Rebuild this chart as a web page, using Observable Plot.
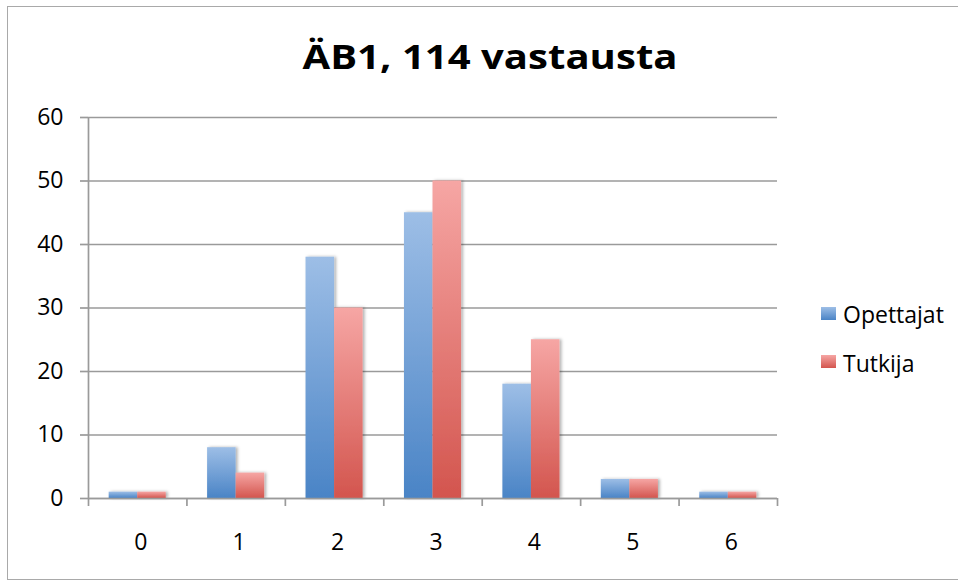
<!DOCTYPE html>
<html>
<head>
<meta charset="utf-8">
<script src="https://cdn.jsdelivr.net/npm/d3@7"></script>
<script src="https://cdn.jsdelivr.net/npm/@observablehq/plot@0.6"></script>
<style>
  html, body { margin: 0; padding: 0; background: #fff; }
  #wrap { position: relative; width: 958px; height: 583px; overflow: hidden; font-family: "Open Sans", sans-serif; }
  #border { position: absolute; left: 7px; top: 6px; width: 1000px; height: 574px; border: 1.5px solid #a9a9a9; box-sizing: border-box; }
  #chart { position: absolute; left: 0; top: 0; }
  .leg { position: absolute; font-size: 23px; line-height: 1; color: #000; white-space: nowrap; }
  .sw { position: absolute; width: 15px; height: 13px; }
</style>
</head>
<body>
<div id="wrap">
  <div id="border"></div>
  <div id="chart"></div>
  <div id="legend"></div>
</div>
<script>
const titleText = "ÄB1, 114 vastausta";
const categories = ["0", "1", "2", "3", "4", "5", "6"];
const seriesNames = ["Opettajat", "Tutkija"];
const opettajat = [1, 8, 38, 45, 18, 3, 1];
const tutkija = [1, 4, 30, 50, 25, 3, 1];
const yTicks = [0, 10, 20, 30, 40, 50, 60];

const blueTop = "#9dbee6", blueBottom = "#4a84c6";
const redTop = "#f6a6a4", redBottom = "#d3554e";
const gridColor = "#9a9a9a";

const rowsO = categories.map((c, i) => ({i, cat: c, series: seriesNames[0], value: opettajat[i]}));
const rowsT = categories.map((c, i) => ({i, cat: c, series: seriesNames[1], value: tutkija[i]}));
const idx = categories.map((c, i) => i);
const boundaries = [...idx.map(i => i - 0.5), categories.length - 0.5];
const barW = 0.29;

const chart = Plot.plot({
  width: 958,
  height: 583,
  marginLeft: 88,
  marginRight: 181,
  marginTop: 117,
  marginBottom: 85,
  style: {fontFamily: "Open Sans, sans-serif", fontSize: "23px", color: "#000", background: "transparent"},
  x: {type: "linear", domain: [-0.5, categories.length - 0.5]},
  y: {domain: [0, 60]},
  marks: [
    Plot.ruleY(yTicks, {stroke: gridColor, strokeWidth: 1.7}),
    Plot.rectY(rowsO, {x1: d => d.i - barW, x2: d => d.i, y1: 0, y2: "value", fill: "url(#gradBlue)", className: "barsO"}),
    Plot.rectY(rowsT, {x1: d => d.i, x2: d => d.i + barW, y1: 0, y2: "value", fill: "url(#gradRed)", className: "barsT"}),
    Plot.ruleX([-0.5], {stroke: gridColor, strokeWidth: 1.7}),
    Plot.ruleY([0], {stroke: gridColor, strokeWidth: 1.7}),
    Plot.axisY(yTicks, {tickSize: 8, tickPadding: 17, stroke: gridColor, strokeWidth: 1.7, fontSize: 23, label: null}),
    Plot.axisX(boundaries, {tickSize: 8, tickFormat: () => "", stroke: gridColor, strokeWidth: 1.7, label: null}),
    Plot.axisX(idx, {tickSize: 0, tickPadding: 35, tickFormat: i => categories[i], fontSize: 23, dx: 3, label: null}),
    Plot.text([titleText], {frameAnchor: "top", lineAnchor: "bottom", dy: -49, dx: 57, fontSize: 34, fontWeight: "bold", className: "title"})
  ]
});

// gradient + shadow defs
const svg = d3.select(chart);
const defs = svg.insert("defs", ":first-child");
function grad(id, top, bottom) {
  const g = defs.append("linearGradient").attr("id", id).attr("x1", 0).attr("y1", 0).attr("x2", 0).attr("y2", 1);
  g.append("stop").attr("offset", "0%").attr("stop-color", top);
  g.append("stop").attr("offset", "100%").attr("stop-color", bottom);
}
grad("gradBlue", blueTop, blueBottom);
grad("gradRed", redTop, redBottom);
const f = defs.append("filter").attr("id", "shadow").attr("x", "-20%").attr("y", "-20%").attr("width", "150%").attr("height", "140%");
f.append("feDropShadow").attr("dx", 2).attr("dy", 0).attr("stdDeviation", 1.5).attr("flood-color", "#000").attr("flood-opacity", 0.3);
svg.selectAll(".barsO, .barsT").attr("filter", "url(#shadow)");
svg.selectAll(".title text").attr("textLength", 375).attr("lengthAdjust", "spacingAndGlyphs");

document.getElementById("chart").appendChild(chart);

// legend
const legend = document.getElementById("legend");
const legendItems = [
  {name: seriesNames[0], top: blueTop, bottom: blueBottom, swTop: 307, textTop: 303},
  {name: seriesNames[1], top: redTop, bottom: redBottom, swTop: 355, textTop: 352}
];
legendItems.forEach(it => {
  const sw = document.createElement("div");
  sw.className = "sw";
  sw.style.left = "821px";
  sw.style.top = it.swTop + "px";
  sw.style.background = `linear-gradient(${it.top}, ${it.bottom})`;
  legend.appendChild(sw);
  const t = document.createElement("div");
  t.className = "leg";
  t.style.left = "843px";
  t.style.top = it.textTop + "px";
  t.textContent = it.name;
  legend.appendChild(t);
});
</script>
</body>
</html>
